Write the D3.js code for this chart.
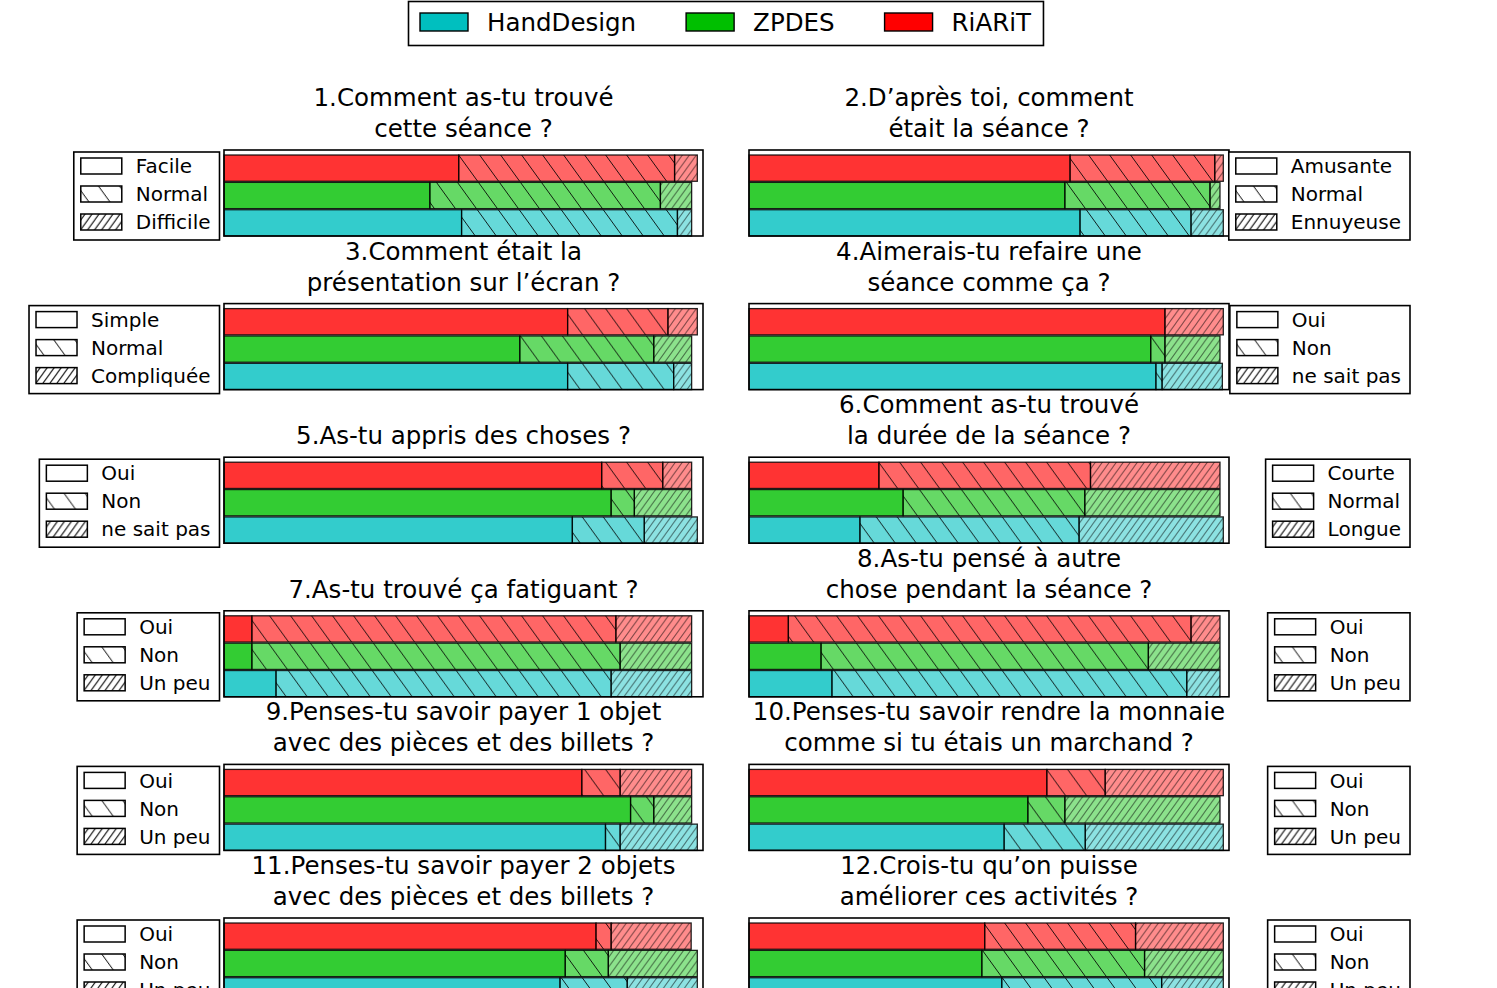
<!DOCTYPE html>
<html><head><meta charset="utf-8">
<script src="https://cdn.jsdelivr.net/npm/d3@7"></script>
<style>body{margin:0;background:#fff} text{font-family:"DejaVu Sans",sans-serif;fill:#000}</style>
</head><body><svg id="c" width="1497" height="988"></svg>
<script>
const seriesNames = ["HandDesign", "ZPDES", "RiARiT"];
const seriesColors = ["#00bfbf", "#00bf00", "#ff0000"];
const titles = [
  "1.Comment as-tu trouvé\ncette séance ?",
  "2.D’après toi, comment\nétait la séance ?",
  "3.Comment était la\nprésentation sur l’écran ?",
  "4.Aimerais-tu refaire une\nséance comme ça ?",
  "5.As-tu appris des choses ?",
  "6.Comment as-tu trouvé\nla durée de la séance ?",
  "7.As-tu trouvé ça fatiguant ?",
  "8.As-tu pensé à autre\nchose pendant la séance ?",
  "9.Penses-tu savoir payer 1 objet\navec des pièces et des billets ?",
  "10.Penses-tu savoir rendre la monnaie\ncomme si tu étais un marchand ?",
  "11.Penses-tu savoir payer 2 objets\navec des pièces et des billets ?",
  "12.Crois-tu qu’on puisse\naméliorer ces activités ?"
];
const answers = [
  ["Facile", "Normal", "Difficile"],
  ["Amusante", "Normal", "Ennuyeuse"],
  ["Simple", "Normal", "Compliquée"],
  ["Oui", "Non", "ne sait pas"],
  ["Oui", "Non", "ne sait pas"],
  ["Courte", "Normal", "Longue"],
  ["Oui", "Non", "Un peu"],
  ["Oui", "Non", "Un peu"],
  ["Oui", "Non", "Un peu"],
  ["Oui", "Non", "Un peu"],
  ["Oui", "Non", "Un peu"],
  ["Oui", "Non", "Un peu"]
];
// percentages per question: [answer 1, answer 2, answer 3]
const handDesign = [
  [50.2, 45.6, 3.0], [69.8, 23.4, 6.8], [72.6, 22.4, 3.8], [85.8, 1.3, 12.7],
  [73.6, 15.2, 11.2], [23.4, 46.2, 30.4], [11.0, 70.8, 17.0], [17.5, 74.8, 7.0],
  [80.6, 3.1, 16.3], [53.8, 17.1, 29.1], [71.0, 14.2, 14.8], [53.3, 33.7, 13.0]
];
const zpdes = [
  [43.5, 48.7, 6.6], [66.6, 30.6, 2.1], [62.5, 28.3, 8.0], [84.7, 3.0, 11.6],
  [81.8, 4.9, 12.1], [32.5, 38.3, 28.5], [5.9, 77.8, 15.1], [15.2, 69.0, 15.1],
  [85.9, 4.9, 8.0], [58.8, 7.8, 32.7], [72.1, 9.1, 18.8], [49.1, 34.3, 16.6]
];
const riarit = [
  [49.6, 45.6, 4.8], [67.7, 30.5, 1.8], [72.6, 21.2, 6.2], [87.7, 0.0, 12.3],
  [79.8, 12.9, 6.1], [27.4, 44.6, 27.3], [5.9, 76.9, 16.0], [8.3, 84.9, 6.1],
  [75.6, 8.1, 15.1], [62.8, 12.3, 24.9], [78.6, 3.2, 16.9], [49.7, 31.8, 18.5]
];
const seriesData = [handDesign, zpdes, riarit];

const svg = d3.select("#c");
const defs = svg.append("defs");
function hatch(id, w, h, back) {
  const p = defs.append("pattern").attr("id", id).attr("patternUnits", "userSpaceOnUse")
    .attr("width", w).attr("height", h);
  let d = "";
  for (let k = -1; k <= 1; k++) {
    if (back) d += `M${k * w - 0.5 * w},${-0.5 * h} L${k * w + 1.5 * w},${1.5 * h} `;
    else d += `M${k * w - 0.5 * w},${1.5 * h} L${k * w + 1.5 * w},${-0.5 * h} `;
  }
  p.append("path").attr("d", d).attr("stroke", "#000").attr("stroke-width", 1).attr("fill", "none");
}
hatch("hb", 21, 29, true);
hatch("hf", 7, 9.7, false);

const segOpacity = [0.8, 0.6, 0.45];
const hatchIds = [null, "hb", "hf"];
const hatchOpacity = [0, 0.85, 0.5];

function measure(txt, size) {
  const t = svg.append("text").style("font-size", size + "px").text(txt);
  const w = t.node().getComputedTextLength();
  t.remove();
  return w;
}

// top legend
(function () {
  const g = svg.append("g");
  let x = 420;
  const items = [];
  seriesNames.forEach((n, i) => {
    const tw = measure(n, 24.5);
    items.push({ n, i, px: x, tx: x + 67, tw });
    x = x + 67 + tw + 50;
  });
  const last = items[items.length - 1];
  const right = last.tx + last.tw + 12;
  g.append("rect").attr("x", 408.5).attr("y", 1.5).attr("width", right - 408).attr("height", 44)
    .attr("fill", "#fff").attr("stroke", "#000").attr("stroke-width", 1.6);
  items.forEach(it => {
    g.append("rect").attr("x", it.px).attr("y", 13).attr("width", 48).attr("height", 18)
      .attr("fill", seriesColors[it.i]).attr("stroke", "#000").attr("stroke-width", 1.4);
    g.append("text").attr("x", it.tx).attr("y", 22).attr("dy", "0.36em")
      .style("font-size", "24.5px").text(it.n);
  });
})();

const order = ["RiARiT", "ZPDES", "HandDesign"];
const axH = 86;
const y = d3.scaleBand().domain(order).range([5, 86]).paddingInner(0.04).paddingOuter(0);

titles.forEach((title, q) => {
  const col = q % 2, row = Math.floor(q / 2);
  const axX = col ? 749 : 224;
  const axW = col ? 480 : 479;
  const axY = 150 + row * 153.6;
  const x = d3.scaleLinear().domain([0, 101.2]).range([0, axW]);
  const g = svg.append("g").attr("transform", `translate(${axX},${axY})`);
  g.append("rect").attr("width", axW).attr("height", axH).attr("fill", "#fff");

  order.forEach(name => {
    const si = seriesNames.indexOf(name);
    const vals = seriesData[si][q];
    let cum = 0;
    vals.forEach((v, k) => {
      const x0 = x(cum), x1 = x(cum + v);
      cum += v;
      if (v <= 0) return;
      g.append("rect").attr("x", x0).attr("y", y(name)).attr("width", x1 - x0).attr("height", y.bandwidth())
        .attr("fill", seriesColors[si]).attr("fill-opacity", segOpacity[k]);
      if (hatchIds[k]) {
        g.append("rect").attr("x", x0).attr("y", y(name)).attr("width", x1 - x0).attr("height", y.bandwidth())
          .attr("fill", `url(#${hatchIds[k]})`).attr("opacity", hatchOpacity[k]);
      }
      g.append("rect").attr("x", x0).attr("y", y(name)).attr("width", x1 - x0).attr("height", y.bandwidth())
        .attr("fill", "none").attr("stroke", "#000").attr("stroke-width", 1.3).attr("stroke-opacity", 0.85);
    });
  });
  g.append("rect").attr("width", axW).attr("height", axH).attr("fill", "none")
    .attr("stroke", "#000").attr("stroke-width", 1.6);

  // title
  const lines = title.split("\n");
  lines.forEach((ln, li) => {
    svg.append("text").attr("x", axX + axW / 2).attr("y", axY - 13 - (lines.length - 1 - li) * 31)
      .attr("text-anchor", "middle").style("font-size", "24.5px").text(ln);
  });

  // sub legend
  const labs = answers[q];
  const tw = d3.max(labs, l => measure(l, 20));
  const lw = 62 + tw + 9;
  const lx = col ? 1410 - lw : 219.5 - lw;
  const ly = axY + 2;
  const lg = svg.append("g").attr("transform", `translate(${lx},${ly})`);
  lg.append("rect").attr("width", lw).attr("height", 88).attr("fill", "#fff")
    .attr("stroke", "#000").attr("stroke-width", 1.6);
  labs.forEach((l, k) => {
    const cy = 14 + k * 28;
    lg.append("rect").attr("x", 7).attr("y", cy - 8).attr("width", 41).attr("height", 16).attr("fill", "#fff");
    if (hatchIds[k]) {
      lg.append("rect").attr("x", 7).attr("y", cy - 8).attr("width", 41).attr("height", 16)
        .attr("fill", `url(#${hatchIds[k]})`);
    }
    lg.append("rect").attr("x", 7).attr("y", cy - 8).attr("width", 41).attr("height", 16)
      .attr("fill", "none").attr("stroke", "#000").attr("stroke-width", 1.5);
    lg.append("text").attr("x", 62).attr("y", cy).attr("dy", "0.36em").style("font-size", "20px").text(l);
  });
});
</script></body></html>
